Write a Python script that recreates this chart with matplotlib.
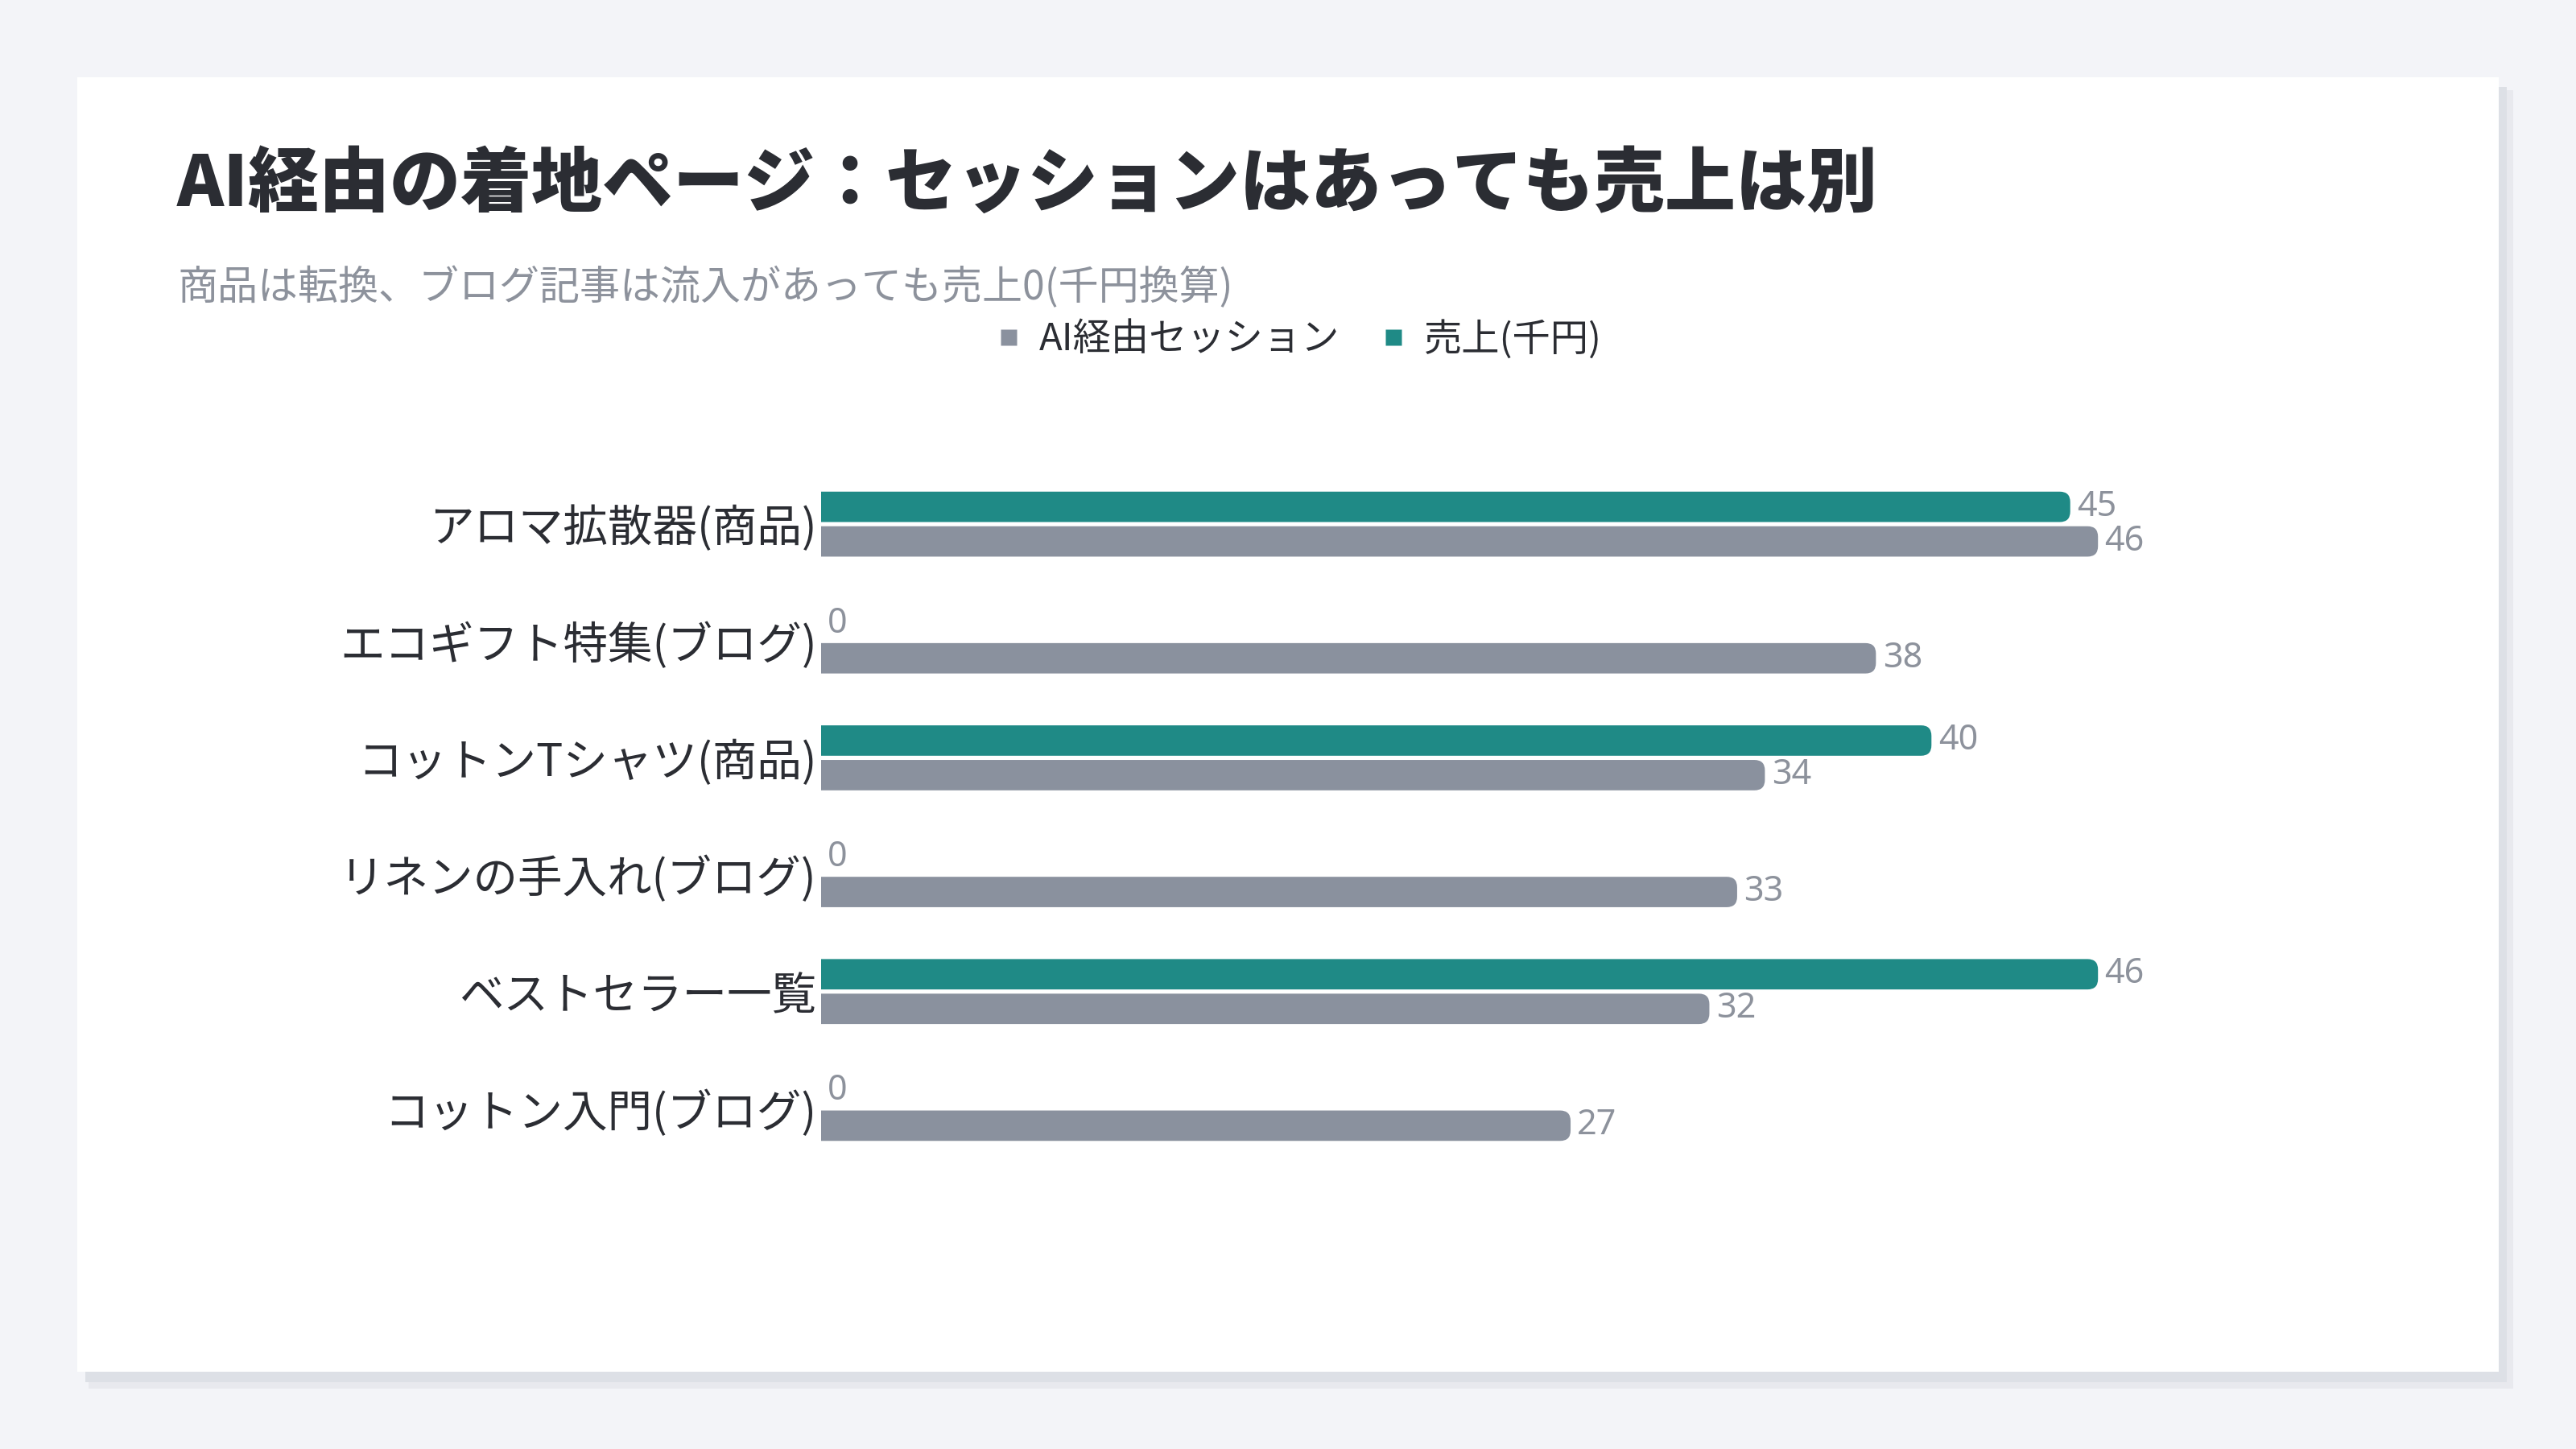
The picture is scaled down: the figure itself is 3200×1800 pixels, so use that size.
import matplotlib.pyplot as plt
from matplotlib.patches import FancyBboxPatch, Rectangle
from matplotlib.lines import Line2D
import numpy as np

plt.rcParams['font.family'] = ['Noto Sans CJK JP', 'DejaVu Sans']

# data
pages = ['アロマ拡散器(商品)', 'エコギフト特集(ブログ)', 'コットンTシャツ(商品)',
         'リネンの手入れ(ブログ)', 'ベストセラー一覧', 'コットン入門(ブログ)']
sessions = [46, 38, 34, 33, 32, 27]
sales = [45, 0, 40, 0, 46, 0]

title = 'AI経由の着地ページ：セッションはあっても売上は別'
subtitle = '商品は転換、ブログ記事は流入があっても売上0(千円換算)'

gray = '#8a919e'
teal = '#1f8a86'
dark = '#2b2d33'
muted = '#8d929c'

W, H, DPI = 3200, 1800, 200
fig = plt.figure(figsize=(W / DPI, H / DPI), dpi=DPI)
fig.patch.set_facecolor('#f3f4f8')

# card with soft shadow (pixel coords -> figure fraction)
def px(x0, y0, x1, y1):
    return (x0 / W, 1 - y1 / H), (x1 - x0) / W, (y1 - y0) / H

for (x0, y0, x1, y1), c in [((110, 112, 3122, 1725), '#e8e9ee'),
                            ((106, 108, 3114, 1717), '#dde0e6'),
                            ((96, 96, 3104, 1704), 'white')]:
    xy, w, h = px(x0, y0, x1, y1)
    fig.patches.append(Rectangle(xy, w, h, transform=fig.transFigure,
                                 facecolor=c, edgecolor='none', zorder=-10))

fig.text(220 / W, 1 - 230 / H, title, fontsize=31.7, fontweight='black',
         color=dark, va='center', ha='left')
fig.text(220 / W, 1 - 358 / H, subtitle, fontsize=18, color=muted,
         va='center', ha='left')

# plot area
ax_l, ax_r, ax_t, ax_b = 1020, 3020, 564, 1464
ax = fig.add_axes([ax_l / W, 1 - ax_b / H, (ax_r - ax_l) / W, (ax_b - ax_t) / H])
ax.set_facecolor('none')
ax.set_zorder(5)
xmax = 58
ax.set_xlim(0, xmax)
ax.set_ylim(len(pages) - 0.4, -0.6)

rows = np.arange(len(pages))
off = 0.148
h = 0.26

bars_sales = ax.barh(rows - off, sales, height=h, color=teal)
bars_sess = ax.barh(rows + off, sessions, height=h, color=gray)

# rounded right ends
px_x = (ax_r - ax_l) / xmax
px_y = (ax_b - ax_t) / (len(pages) + 0.2)
rad = 13
rx, ry = rad / px_x, rad / px_y
for bars in (bars_sales, bars_sess):
    for b in bars:
        b.set_visible(False)
        v = b.get_width()
        if v <= 0:
            continue
        p = FancyBboxPatch((-rx, b.get_y()), v + rx, b.get_height(),
                           boxstyle=f'round,pad=0,rounding_size={rx}',
                           mutation_aspect=ry / rx,
                           facecolor=b.get_facecolor(), edgecolor='none')
        ax.add_patch(p)

for vals, ys in ((sales, rows - off), (sessions, rows + off)):
    for v, y in zip(vals, ys):
        ax.annotate(str(v), (v, y), xytext=(3, 0), textcoords='offset points',
                    va='center', ha='left', fontsize=15.5, color=muted,
                    family=['Noto Sans', 'DejaVu Sans'])

ax.set_yticks(rows, pages)
ax.tick_params(axis='y', length=0, pad=2, labelsize=20, labelcolor=dark)
ax.set_xticks([])
for s in ax.spines.values():
    s.set_visible(False)

handles = [Line2D([], [], marker='s', linestyle='none', markersize=7.5,
                  markerfacecolor=gray, markeredgecolor='none'),
           Line2D([], [], marker='s', linestyle='none', markersize=7.5,
                  markerfacecolor=teal, markeredgecolor='none')]
fig.legend(handles, ['AI経由セッション', '売上(千円)'], loc='center',
           bbox_to_anchor=(1612 / W, 1 - 422 / H), ncol=2, frameon=False,
           fontsize=17, handlelength=0.8, handletextpad=0.4,
           columnspacing=1.0, labelcolor=dark)

fig.savefig('out.png', dpi=DPI)
